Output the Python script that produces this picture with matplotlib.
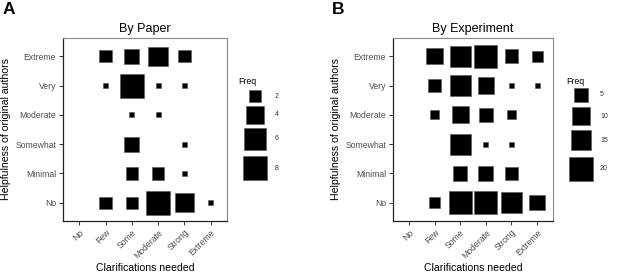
import numpy as np
import matplotlib
matplotlib.use("Agg")
import matplotlib.pyplot as plt

plt.rcParams['font.family'] = ['Liberation Sans', 'DejaVu Sans']

CLARIF = ['No', 'Few', 'Some', 'Moderate', 'Strong', 'Extreme']
HELPFUL = ['No', 'Minimal', 'Somewhat', 'Moderate', 'Very', 'Extreme']

# rows = helpfulness (No -> Extreme), cols = clarifications (No -> Extreme)
freq_paper = [
    [0, 2, 2, 8, 5, 1],
    [0, 0, 2, 2, 1, 0],
    [0, 0, 3, 0, 1, 0],
    [0, 0, 1, 1, 0, 0],
    [0, 1, 8, 1, 1, 0],
    [0, 2, 3, 5, 2, 0],
]
freq_experiment = [
    [0, 3, 19, 20, 16, 7],
    [0, 0, 6, 7, 5, 0],
    [0, 0, 16, 1, 1, 0],
    [0, 2, 9, 5, 2, 0],
    [0, 4, 15, 8, 1, 1],
    [0, 8, 15, 20, 5, 3],
]
legend_paper = [2, 4, 6, 8]
legend_experiment = [5, 10, 15, 20]

DPI = 100
W, H = 617, 275


def side_px(v, lo, hi, rmin, rmax):
    # area-style size scale (like ggplot scale_size)
    return rmin + (rmax - rmin) * np.sqrt((np.asarray(v, float) - lo) / (hi - lo))


def to_s(px):
    return (px * 72.0 / DPI) ** 2


fig = plt.figure(figsize=(W / DPI, H / DPI), dpi=DPI)
overlay = fig.add_axes([0, 0, 1, 1], zorder=-1)
overlay.set_xlim(0, W)
overlay.set_ylim(H, 0)
overlay.axis('off')

panels = [
    dict(left=63, right=227, data=freq_paper, title='By Paper', letter='A', letter_x=3,
         leg=legend_paper, rmax=24.0, leg_x=255, leg_lab_x=275, leg_title=(238, 82),
         leg_y=[96, 115, 139, 168]),
    dict(left=393, right=553, data=freq_experiment, title='By Experiment', letter='B', letter_x=332,
         leg=legend_experiment, rmax=23.3, leg_x=581, leg_lab_x=600, leg_title=(566, 81),
         leg_y=[95, 116, 140, 169]),
]

top, bottom = 38, 221
for p in panels:
    ax = fig.add_axes([p['left'] / W, (H - bottom) / H, (p['right'] - p['left']) / W, (bottom - top) / H])
    m = np.array(p['data'])
    hi = max(m.max(), max(p['leg']))
    yy, xx = np.nonzero(m)
    vals = m[yy, xx]
    ax.scatter(xx + 1, yy + 1, s=to_s(side_px(vals, 1, hi, 5.0, p['rmax'])), marker='s',
               c='black', edgecolors='#555555', linewidths=0.4)
    ax.set_xlim(0.38, 6.62)
    ax.set_ylim(0.38, 6.62)
    ax.set_xticks(range(1, 7))
    ax.set_xticklabels(CLARIF, rotation=45, ha='right', va='top', rotation_mode='anchor')
    ax.set_yticks(range(1, 7))
    ax.set_yticklabels(HELPFUL)
    ax.tick_params(labelsize=6.2, labelcolor='#4d4d4d', length=3, width=0.7, color='#333333', pad=2)
    for s in ['left', 'bottom']:
        ax.spines[s].set_color('#222222')
        ax.spines[s].set_linewidth(0.9)
    for s in ['top', 'right']:
        ax.spines[s].set_color('#8a8a8a')
        ax.spines[s].set_linewidth(0.8)
    ax.set_xlabel('Clarifications needed', fontsize=7.6, labelpad=2)
    ax.set_ylabel('Helpfulness of original authors', fontsize=7.6, labelpad=3)
    ax.set_title(p['title'], fontsize=9, pad=4)
    fig.text(p['letter_x'] / W, 1 - 2 / H, p['letter'], fontsize=12.5, fontweight='bold', va='top', ha='left')

    # legend
    overlay.text(p['leg_title'][0], p['leg_title'][1], 'Freq', fontsize=6.3, va='center', ha='left')
    overlay.scatter([p['leg_x']] * len(p['leg']), p['leg_y'],
                    s=to_s(side_px(p['leg'], 1, hi, 5.0, p['rmax'])), marker='s',
                    c='black', edgecolors='#555555', linewidths=0.4)
    for v, y in zip(p['leg'], p['leg_y']):
        overlay.text(p['leg_lab_x'], y, str(v), fontsize=5, va='center', ha='left', color='#333333')

fig.savefig('out.png', dpi=DPI)
